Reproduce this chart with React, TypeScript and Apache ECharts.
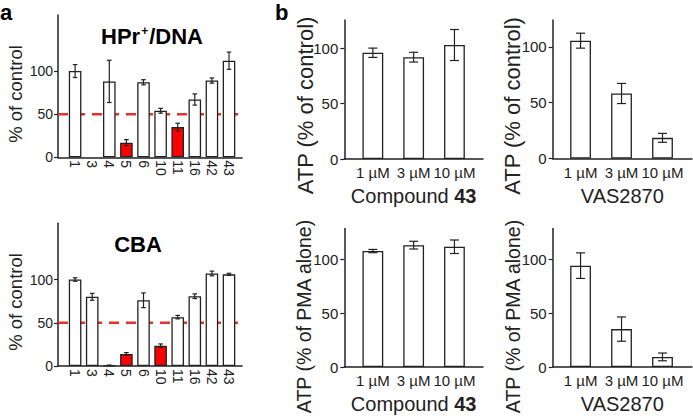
import React, { useEffect, useRef } from "react";
import * as echarts from "echarts";

// ---------- data ----------
const aCategories = ["1", "3", "4", "5", "6", "10", "11", "16", "42", "43"];
const hprValues: (number | null)[] = [100, null, 88, 17, 87, 54, 35, 67, 89, 112];
const hprErrors: (number | null)[] = [7.5, null, 24.5, 3.5, 3, 2.8, 4.5, 6.5, 3, 10];
const hprHighlighted = ["5", "11"];
const cbaValues: (number | null)[] = [100, 80, 0.8, 14, 76, 23.5, 56.5, 80.7, 107, 106];
const cbaErrors: (number | null)[] = [2, 4, 0.3, 1.5, 8.5, 2, 2, 2.7, 2.7, 1.2];
const cbaHighlighted = ["5", "10"];
const thresholdValue = 50;
const aTicks = [0, 50, 100];

const bCategories = ["1 µM", "3 µM", "10 µM"];
const cmpControlValues = [96, 92, 103];
const cmpControlErrors = [4.2, 4.4, 14];
const vasControlValues = [105.5, 58.2, 18.5];
const vasControlErrors = [6.7, 9, 4];
const cmpPmaValues = [108, 113.5, 112];
const cmpPmaErrors = [1.5, 3.6, 6.3];
const vasPmaValues = [94.4, 35.3, 9.4];
const vasPmaErrors = [11.9, 11.3, 3.6];
const bTicks = [0, 50, 100];

// ---------- styling ----------
const FONT = '"Liberation Sans", Arial, Helvetica, sans-serif';
const INK = "#222";
const RED_BAR = "#ff0000";
const RED_LINE = "#e5302e";

function errorSeries(gi: number, values: (number | null)[], errors: (number | null)[], cap: number) {
  const data: number[][] = [];
  values.forEach((v, i) => {
    if (v != null && errors[i] != null) data.push([i, v, errors[i] as number]);
  });
  return {
    type: "custom",
    xAxisIndex: gi,
    yAxisIndex: gi,
    z: 5,
    silent: true,
    data,
    renderItem: (_p: any, api: any) => {
      const x = api.value(0);
      const v = api.value(1);
      const e = api.value(2);
      const t = api.coord([x, v + e]);
      const b = api.coord([x, Math.max(0, v - e)]);
      const st = { stroke: INK, lineWidth: 1.2 };
      return {
        type: "group",
        children: [
          { type: "line", shape: { x1: t[0], y1: t[1], x2: b[0], y2: b[1] }, style: st },
          { type: "line", shape: { x1: t[0] - cap, y1: t[1], x2: t[0] + cap, y2: t[1] }, style: st },
          { type: "line", shape: { x1: b[0] - cap, y1: b[1], x2: b[0] + cap, y2: b[1] }, style: st },
        ],
      };
    },
  };
}

function barSeries(gi: number, cats: string[], values: (number | null)[], highlighted: string[], width: number) {
  const data: any[] = [];
  values.forEach((v, i) => {
    if (v == null) return;
    data.push({
      value: [i, v],
      itemStyle: { color: highlighted.includes(cats[i]) ? RED_BAR : "#ffffff" },
    });
  });
  return {
    type: "bar",
    xAxisIndex: gi,
    yAxisIndex: gi,
    z: 2,
    barWidth: width,
    silent: true,
    itemStyle: { borderColor: INK, borderWidth: 1.3 },
    data,
  };
}

function xAxisA(gi: number, min: number, max: number) {
  return {
    type: "value",
    gridIndex: gi,
    min,
    max,
    axisLine: { show: true, onZero: false, lineStyle: { color: INK, width: 1.5 } },
    axisTick: { show: false },
    splitLine: { show: false },
    axisLabel: {
      customValues: aCategories.map((_, i) => i),
      formatter: (v: number) => aCategories[Math.round(v)] ?? "",
      rotate: -90,
      margin: 3,
      fontSize: 14,
      color: INK,
      fontFamily: FONT,
    },
  };
}

function yAxisCommon(gi: number, max: number, ticks: number[], fontSize: number, margin: number) {
  return {
    type: "value",
    gridIndex: gi,
    min: 0,
    max,
    axisLine: { show: true, onZero: false, lineStyle: { color: INK, width: 1.5 } },
    axisTick: { show: true, length: 4, customValues: ticks, lineStyle: { color: INK, width: 1.2 } },
    splitLine: { show: false },
    axisLabel: { customValues: ticks, margin, fontSize, color: INK, fontFamily: FONT },
  };
}

function xAxisB(gi: number, min: number, max: number, name: string) {
  return {
    type: "value",
    gridIndex: gi,
    min,
    max,
    name,
    nameLocation: "middle",
    nameGap: 27,
    nameTextStyle: {
      fontSize: 20,
      color: INK,
      fontFamily: FONT,
      rich: {
        n: { fontSize: 20, color: INK, fontFamily: FONT },
        b: { fontSize: 20, color: INK, fontFamily: FONT, fontWeight: "bold" },
      },
    },
    axisLine: { show: true, onZero: false, lineStyle: { color: INK, width: 1.5 } },
    axisTick: { show: false },
    splitLine: { show: false },
    axisLabel: {
      customValues: bCategories.map((_, i) => i),
      formatter: (v: number) => bCategories[Math.round(v)] ?? "",
      margin: 6,
      fontSize: 15,
      color: INK,
      fontFamily: FONT,
    },
  };
}

function rotText(text: string, x: number, y: number, size: number) {
  return {
    type: "text",
    x,
    y,
    rotation: Math.PI / 2,
    style: {
      text,
      fill: INK,
      font: `${size}px ${FONT}`,
      align: "center",
      verticalAlign: "middle",
    },
  };
}

export default function App() {
  const ref = useRef<HTMLDivElement>(null);

  useEffect(() => {
    document.body.style.margin = "0";
    if (!ref.current) return;
    const chart = echarts.init(ref.current, null, { renderer: "svg" });

    const aMin = -1;
    const aMax = 9.76;
    const bMin = -0.7;
    const bMax = 2.7;

    const option: any = {
      animation: false,
      backgroundColor: "#ffffff",
      grid: [
        { left: 58, top: 15, width: 184, height: 142.3 },
        { left: 58, top: 223.3, width: 184, height: 142.7 },
        { left: 344.3, top: 20, width: 138.7, height: 139 },
        { left: 552.7, top: 20, width: 139.3, height: 138.5 },
        { left: 344.3, top: 228.5, width: 138.7, height: 138.5 },
        { left: 552.7, top: 228.5, width: 139.3, height: 138.5 },
      ],
      xAxis: [
        xAxisA(0, aMin, aMax),
        xAxisA(1, aMin, aMax),
        xAxisB(2, bMin, bMax, "{n|Compound }{b|43}"),
        xAxisB(3, -0.68, 2.72, "VAS2870"),
        xAxisB(4, bMin, bMax, "{n|Compound }{b|43}"),
        xAxisB(5, -0.68, 2.72, "VAS2870"),
      ],
      yAxis: [
        yAxisCommon(0, 165, aTicks, 14, 5),
        yAxisCommon(1, 165, aTicks, 14, 5),
        yAxisCommon(2, 125.6, bTicks, 15, 6),
        yAxisCommon(3, 124, bTicks, 15, 6),
        yAxisCommon(4, 129, bTicks, 15, 6),
        yAxisCommon(5, 129, bTicks, 15, 6),
      ],
      series: [
        {
          type: "line",
          xAxisIndex: 0,
          yAxisIndex: 0,
          z: 1,
          silent: true,
          symbol: "none",
          lineStyle: { color: RED_LINE, width: 2.5, type: [10, 7] },
          data: [[aMin, thresholdValue], [aMax, thresholdValue]],
        },
        {
          type: "line",
          xAxisIndex: 1,
          yAxisIndex: 1,
          z: 1,
          silent: true,
          symbol: "none",
          lineStyle: { color: RED_LINE, width: 2.5, type: [10, 7] },
          data: [[aMin, thresholdValue], [aMax, thresholdValue]],
        },
        barSeries(0, aCategories, hprValues, hprHighlighted, 12.6),
        errorSeries(0, hprValues, hprErrors, 2.3),
        barSeries(1, aCategories, cbaValues, cbaHighlighted, 12.6),
        errorSeries(1, cbaValues, cbaErrors, 2.3),
        barSeries(2, bCategories, cmpControlValues, [], 20.8),
        errorSeries(2, cmpControlValues, cmpControlErrors, 4.5),
        barSeries(3, bCategories, vasControlValues, [], 20.8),
        errorSeries(3, vasControlValues, vasControlErrors, 4.5),
        barSeries(4, bCategories, cmpPmaValues, [], 20.8),
        errorSeries(4, cmpPmaValues, cmpPmaErrors, 4.5),
        barSeries(5, bCategories, vasPmaValues, [], 20.8),
        errorSeries(5, vasPmaValues, vasPmaErrors, 4.5),
      ],
      graphic: [
        {
          type: "text",
          x: 0,
          y: 12.4,
          style: { text: "a", fill: "#000", font: `bold 22px ${FONT}`, align: "left", verticalAlign: "middle" },
        },
        {
          type: "text",
          x: 275,
          y: 12.4,
          style: { text: "b", fill: "#000", font: `bold 22px ${FONT}`, align: "left", verticalAlign: "middle" },
        },
        {
          type: "text",
          x: 152,
          y: 36,
          style: {
            text: "{t|HPr}{s|+}{t|/DNA}",
            align: "center",
            verticalAlign: "middle",
            rich: {
              t: { font: `bold 22px ${FONT}`, fill: "#000" },
              s: { font: `bold 12px ${FONT}`, fill: "#000", verticalAlign: "top", padding: [0, 1, 10, 1] },
            },
          },
        },
        {
          type: "text",
          x: 138,
          y: 244,
          style: { text: "CBA", fill: "#000", font: `bold 22px ${FONT}`, align: "center", verticalAlign: "middle" },
        },
        rotText("% of control", 15, 94, 18.5),
        rotText("% of control", 15, 302, 18.5),
        rotText("ATP (% of control)", 305, 105.5, 22),
        rotText("ATP (% of control)", 512, 106, 22),
        rotText("ATP (% of PMA alone)", 304, 316.5, 19.5),
        rotText("ATP (% of PMA alone)", 513, 316.5, 19.5),
      ],
    };

    chart.setOption(option);
    return () => {
      chart.dispose();
    };
  }, []);

  return <div ref={ref} style={{ width: 693, height: 417 }} />;
}
